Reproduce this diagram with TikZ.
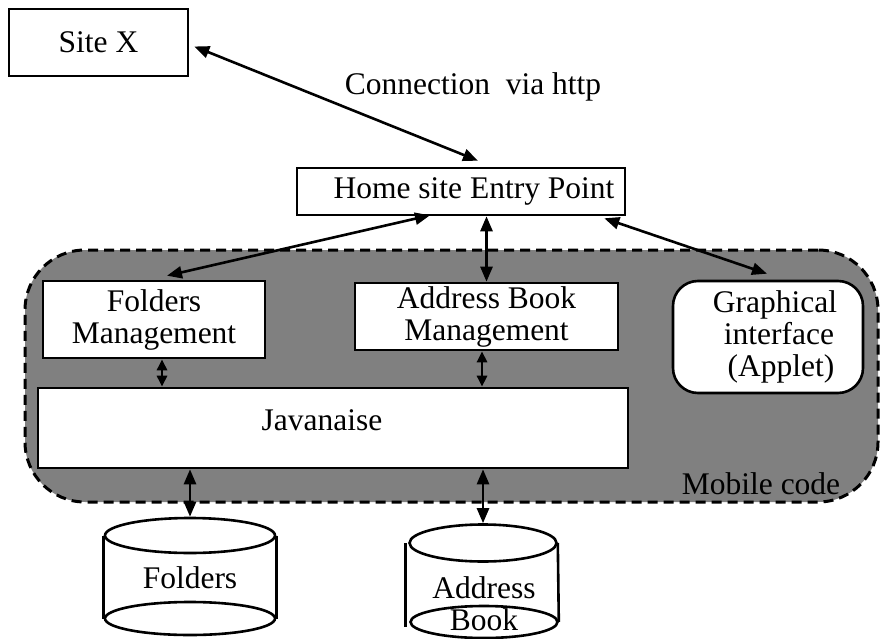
\documentclass[tikz,border=0pt]{standalone}
\usepackage{fontspec}
\setmainfont{Liberation Serif}
\usetikzlibrary{positioning,shapes.geometric,arrows.meta,calc}
\definecolor{mobilegray}{RGB}{128,128,128}

\begin{document}
\begin{tikzpicture}[x=1pt, y=-1pt, line width=2.6pt, font=\fontsize{31.5}{32}\selectfont]
    \tikzstyle{site} = [rectangle, draw, fill=white, inner sep=0pt, align=center]
    \tikzstyle{module} = [rectangle, draw, fill=white, inner sep=0pt, align=center]
    \tikzstyle{gui} = [rectangle, rounded corners=25pt, draw, fill=white, inner sep=0pt, align=center]
    \tikzstyle{disk} = [ellipse, draw, fill=white, inner sep=0pt]
    \tikzstyle{link} = [{Triangle[length=15pt,width=12pt]}-{Triangle[length=15pt,width=12pt]}]
    \tikzstyle{shortlink} = [{Triangle[length=11pt,width=10pt]}-{Triangle[length=11pt,width=10pt]}]
    \useasboundingbox (0,0) rectangle (880,639);

    % Mobile code area
    \node [rectangle, draw, fill=mobilegray, rounded corners=60pt, line width=3pt, dash pattern=on 10pt off 6pt, minimum width=853pt, minimum height=252pt] (mobile_code) at (451.5,376) {};
    \node [anchor=south east, inner sep=0pt] (mobile_label) at ([xshift=-38pt, yshift=7pt]mobile_code.south east) {Mobile code};

    % Sites
    \node [site, minimum width=179pt, minimum height=67pt] (site_x) at (98.5,42.5) {Site X};
    \node [site, minimum width=328pt, minimum height=47pt] (home) at (461,191.5) {\hspace{26pt}Home site Entry Point};
    \node (connection) at (473,87) {Connection \ via http};

    % Modules
    \node [module, minimum width=222pt, minimum height=77pt] (folders_mgmt) at (154,319.5) {Folders\\Management};
    \node [module, minimum width=263pt, minimum height=67pt] (addr_mgmt) at (486.5,316.5) {Address Book\\Management};
    \node [gui, minimum width=190pt, minimum height=112pt] (gui) at (768,337) {\hspace{14pt}Graphical\\\hspace{22pt}interface\\\hspace{26pt}(Applet)};
    \node [module, minimum width=590pt, minimum height=80pt] (javanaise) at (333,428) {};
    \node (javanaise_label) at (322,420) {Javanaise};

    % Storage
    \node [disk, minimum width=170pt, minimum height=33pt] (folders_bottom) at (190,618.5) {};
    \node [disk, minimum width=170pt, minimum height=35pt] (folders_top) at (190,535.5) {};
    \draw (folders_top.west) -- (folders_bottom.west);
    \draw (folders_top.east) -- (folders_bottom.east);
    \node (folders) at (190,578) {Folders};

    \node [disk, minimum width=147pt, minimum height=32pt] (addr_bottom) at (484,622) {};
    \node [disk, minimum width=147pt, minimum height=37pt] (addr_top) at (483,543) {};
    \draw ([xshift=-3pt]addr_top.west) -- ([xshift=-4pt, yshift=-5pt]addr_bottom.west);
    \draw (addr_top.east) -- (addr_bottom.east);
    \node [align=center] (addr_book) at (484,604) {Address\\Book};

    % Arrows
    \draw [link] ([xshift=5pt, yshift=-4pt]site_x.east) -- ([xshift=17pt, yshift=6pt]home.north);
    \draw [link] ([xshift=13pt, yshift=4pt]folders_mgmt.north) -- ([xshift=-31pt, yshift=1pt]home.south);
    \draw [link] (home.south -| addr_mgmt.north) -- (addr_mgmt.north);
    \draw [link] ([xshift=-22pt, yshift=-2pt]home.south east) -- ([xshift=-1pt, yshift=6pt]gui.north);
    \draw [shortlink] ([xshift=8pt]folders_mgmt.south) -- ([xshift=8pt]folders_mgmt.south |- javanaise.north);
    \draw [shortlink] ([xshift=-4.5pt]addr_mgmt.south) -- ([xshift=-4.5pt]addr_mgmt.south |- javanaise.north);
    \draw [link] (folders_top.north |- javanaise.south) -- (folders_top.north);
    \draw [link] (addr_top.north |- javanaise.south) -- (addr_top.north);
\end{tikzpicture}
\end{document}
